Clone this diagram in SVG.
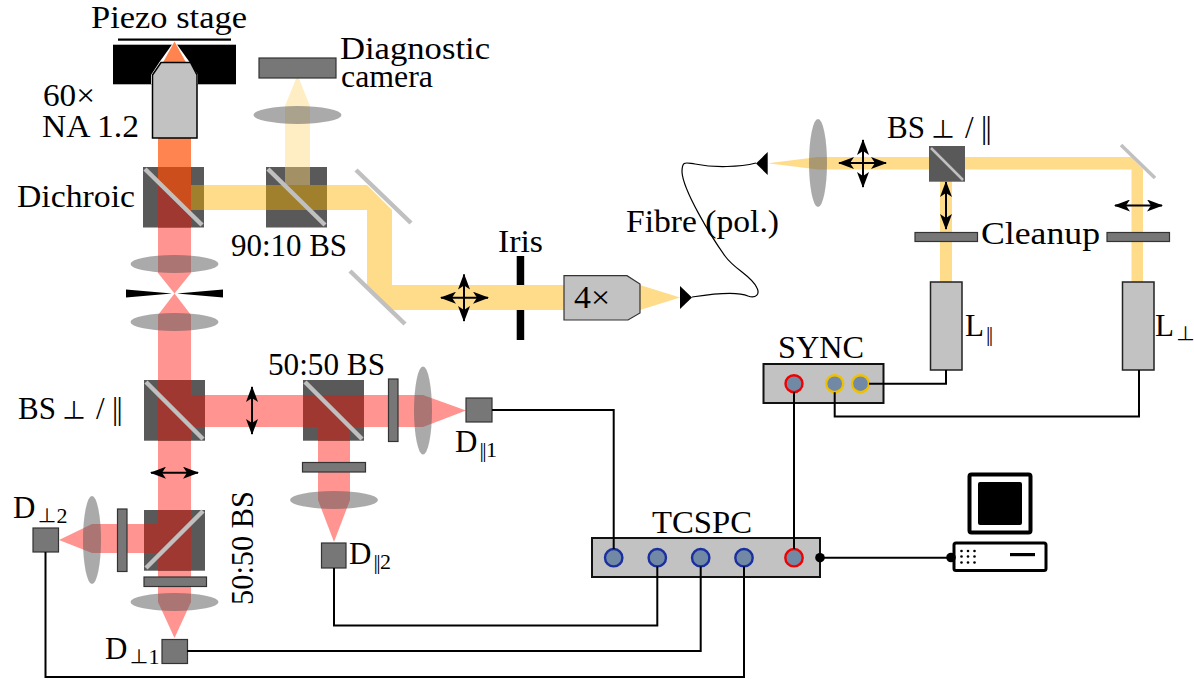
<svg xmlns="http://www.w3.org/2000/svg" width="1194" height="679" viewBox="0 0 1194 679">
<style>
text{font-family:"Liberation Serif","Noto Sans CJK SC","DejaVu Serif",serif;font-size:31px;fill:#000}
tspan.s{font-size:22px}
tspan.p{font-size:19px}
tspan.b{letter-spacing:-1.6px}
tspan.t{font-size:24px}
.box{fill:#595959}
.mir{stroke:#c0c0c0;stroke-width:4.5;fill:none}
.lens{fill:#555;opacity:.5}
.red{fill:#ff9490}.dred{fill:#9e3830}
.org{fill:#ff8450}.dorg{fill:#cb4e1c}
.yel{fill:#ffdc8a}.dyel{fill:#a0802c}
.pale{fill:#ffeec4}.dpale{fill:#a39064}
.flt{fill:#777;stroke:#333;stroke-width:1.2}
.det{fill:#777;stroke:#333;stroke-width:1.2}
.las{fill:#c2c2c2;stroke:#222;stroke-width:1.5}
.inst{fill:#c2c2c2;stroke:#111;stroke-width:2}
.wire{fill:none;stroke:#000;stroke-width:2}
.pol{fill:none;stroke:#000;stroke-width:2;marker-start:url(#ah);marker-end:url(#ah)}
.pb{fill:#7189a5;stroke:#1a2fa0;stroke-width:2.4}
.pr{fill:#7189a5;stroke:#f00000;stroke-width:2.4}
.py{fill:#7189a5;stroke:#f0c000;stroke-width:2.4}
</style>
<defs>
<marker id="ah" markerUnits="userSpaceOnUse" viewBox="0 0 16 12" refX="15" refY="6" markerWidth="16" markerHeight="12" orient="auto-start-reverse"><path d="M0 0 L16 6 L0 12 L4 6 Z" fill="#000"/></marker>
</defs>

<g id="beams-pump">
<polygon class="yel" points="191,185 367,185 392,210 392,285 564,285 564,310 392,310 367,285 367,210 191,210"/>
<polygon class="yel" points="640,285 680,297.5 640,310"/>
<rect class="pale" x="285" y="106" width="25" height="61"/>
<polygon class="pale" points="285,106 310,106 297.5,75"/>
<polygon class="yel" points="818,157 1131.5,157 1143,169 1143,282 1131.5,282 1131.5,169.5 818,169.5 768,163.2"/>
<rect class="yel" x="940" y="170" width="12" height="112"/>
</g>
<g id="beams-emission">
<rect class="org" x="158" y="138" width="33" height="30"/>
<polygon class="red" points="158,227 191,227 191,273 174.5,293.5 158,273"/>
<polygon class="red" points="174.5,293.5 191,315 191,380 158,380 158,315"/>
<rect class="red" x="158" y="440" width="33" height="70"/>
<polygon class="red" points="158,570 191,570 191,602 174.5,638 158,602"/>
<rect class="red" x="205" y="395" width="98" height="32"/>
<polygon class="red" points="364,395 423,395 466,410.5 423,427 364,427"/>
<polygon class="red" points="318,440 350,440 350,500 334,542 318,500"/>
<polygon class="red" points="144,524 92,524 59,540 92,553 144,553"/>
</g>

<g id="stage">
<rect x="118" y="38.5" width="113" height="2.2" fill="#000"/>
<rect x="113" y="44.7" width="123" height="39.6" fill="#000"/>
<polygon fill="#fff" points="174.5,41 189.5,62 198,75 198,84.3 151,84.3 151,75 159.5,62"/>
<polygon class="org" points="174.5,41.5 186,62.5 163,62.5"/>
</g>
<g id="objective60">
<polygon fill="#c2c2c2" stroke="#000" stroke-width="1.5" points="152.5,138 152.5,75 161,62.5 190.5,62.5 197,75 197,138"/>
</g>
<g id="camera"><rect class="det" x="259" y="58" width="77" height="20"/></g>

<g id="dichroic">
<rect class="box" x="143" y="167" width="61" height="60.5"/>
<polygon class="dorg" points="158,167 191,167 191,212 158,182"/>
<polygon class="dred" points="158,182 191,212 191,227.5 158,227.5"/>
<rect class="dyel" x="191" y="185" width="13" height="25"/>
<path class="mir" d="M145 169 L202 225"/>
</g>
<g id="bs90">
<rect class="box" x="266" y="167" width="61" height="60.5"/>
<rect class="dpale" x="285" y="167" width="25" height="18"/>
<rect class="dyel" x="266" y="185" width="61" height="25"/>
<path class="mir" d="M268 169 L325 225"/>
</g>
<g id="mirrors">
<path class="mir" d="M356 170 L411 223"/>
<path class="mir" d="M350 271 L405 324"/>
<path class="mir" style="stroke-width:3.5" d="M1121 145 L1155 178"/>
</g>
<g id="lens-top"><ellipse class="lens" cx="297.5" cy="115" rx="44" ry="9"/></g>
<g id="lens1"><ellipse class="lens" cx="174.5" cy="264" rx="44" ry="9"/></g>
<g id="pinhole">
<polygon points="126,289.5 172,293.5 126,297.5" fill="#000"/>
<polygon points="223,289.5 177,293.5 223,297.5" fill="#000"/>
</g>
<g id="lens2"><ellipse class="lens" cx="174.5" cy="322" rx="44" ry="9"/></g>

<g id="bs-pol-left">
<rect class="box" x="144" y="380" width="61" height="60.7"/>
<rect class="dred" x="158" y="380" width="33" height="60.7"/>
<rect class="dred" x="191" y="395" width="14" height="32"/>
<path class="mir" d="M146 382 L203 439"/>
</g>
<g id="bs50-right">
<rect class="box" x="303" y="380" width="61" height="60.7"/>
<rect class="dred" x="303" y="395" width="61" height="32"/>
<rect class="dred" x="318" y="427" width="32" height="13.7"/>
<path class="mir" d="M305 382 L362 439"/>
</g>
<g id="bs50-lower">
<rect class="box" x="144" y="510" width="61" height="60.7"/>
<rect class="dred" x="158" y="510" width="33" height="60.7"/>
<rect class="dred" x="144" y="524" width="14" height="29"/>
<path class="mir" d="M146 568 L203 511"/>
</g>
<g id="filters">
<rect class="flt" x="388.5" y="379" width="9.5" height="62.5"/>
<rect class="flt" x="302.5" y="462.5" width="63" height="9.5"/>
<rect class="flt" x="117.5" y="509" width="9.5" height="62.5"/>
<rect class="flt" x="144" y="577" width="62.5" height="9.5"/>
<rect class="flt" x="915" y="232.5" width="62.5" height="9"/>
<rect class="flt" x="1107" y="232.5" width="62.5" height="9"/>
</g>
<g id="lenses-detection">
<ellipse class="lens" cx="423" cy="410.5" rx="9" ry="44"/>
<ellipse class="lens" cx="334" cy="500" rx="44" ry="9"/>
<ellipse class="lens" cx="92" cy="540" rx="9" ry="44"/>
<ellipse class="lens" cx="174.5" cy="602" rx="44" ry="9"/>
<ellipse class="lens" cx="818" cy="163" rx="9" ry="44"/>
</g>

<g id="pol-arrows">
<path class="pol" d="M252 387 V434"/>
<path class="pol" d="M151 472.7 H198"/>
<path class="pol" d="M441 297.7 H488"/>
<path class="pol" d="M464 274.5 V321"/>
<path class="pol" d="M839 163 H886"/>
<path class="pol" d="M863 140 V187"/>
<path class="pol" d="M946 182 V229"/>
<path class="pol" d="M1115 205.5 H1162"/>
</g>

<g id="iris">
<rect x="516.7" y="256" width="7.5" height="29" fill="#000"/>
<rect x="516.7" y="310" width="7.5" height="30" fill="#000"/>
</g>
<g id="objective4">
<polygon fill="#c2c2c2" stroke="#333" stroke-width="1.2" points="564,275.7 627,275.7 640,284 640,313 628,320 564,320"/>
</g>
<g id="fibre-ends">
<polygon points="680,286 692,297.5 680,309" fill="#000"/>
<polygon points="756,163.5 767.7,152 767.7,175" fill="#000"/>
</g>
<g id="bs-pol-right">
<rect class="box" x="929" y="146" width="36" height="35.7"/>
<path class="mir" style="stroke-width:2.5" d="M931 148 L963 180"/>
</g>
<g id="laser-par"><rect class="las" x="930.5" y="282" width="31.5" height="88"/></g>
<g id="laser-perp"><rect class="las" x="1122.5" y="282" width="31.5" height="88"/></g>

<g id="detectors">
<rect class="det" x="466" y="398" width="26" height="24"/>
<rect class="det" x="321.5" y="543" width="24.5" height="25"/>
<rect class="det" x="33" y="528" width="25.5" height="24"/>
<rect class="det" x="162" y="639.5" width="25.5" height="24"/>
</g>

<g id="sync">
<rect class="inst" x="763.5" y="364" width="120" height="39"/>
<circle class="pr" cx="794" cy="383.7" r="8.5"/>
<circle class="py" cx="834.7" cy="383.7" r="8.5"/>
<circle class="py" cx="860.5" cy="383.7" r="8.5"/>
</g>
<g id="tcspc">
<rect class="inst" x="592" y="538" width="228" height="39"/>
<circle class="pb" cx="613.7" cy="557.7" r="8.7"/>
<circle class="pb" cx="657.3" cy="557.7" r="8.7"/>
<circle class="pb" cx="700.7" cy="557.7" r="8.7"/>
<circle class="pb" cx="744" cy="557.7" r="8.7"/>
<circle class="pr" cx="794" cy="557.7" r="8.7"/>
<circle cx="820" cy="557.7" r="4.8" fill="#000"/>
</g>
<g id="computer">
<rect x="969.5" y="474.5" width="61" height="58" rx="2" fill="#fff" stroke="#000" stroke-width="4"/>
<rect x="978" y="482" width="44" height="43" rx="2" fill="#000"/>
<rect x="954" y="543" width="92" height="27.5" rx="2" fill="#fff" stroke="#000" stroke-width="3"/>
<circle cx="951" cy="557.5" r="4.8" fill="#000"/>
<rect x="1010" y="553" width="25" height="3.2" fill="#000"/>
<g fill="#000">
<circle cx="961.5" cy="551" r="1.3"/><circle cx="968" cy="551" r="1.3"/><circle cx="974.5" cy="551" r="1.3"/>
<circle cx="961.5" cy="556.5" r="1.3"/><circle cx="968" cy="556.5" r="1.3"/><circle cx="974.5" cy="556.5" r="1.3"/>
<circle cx="961.5" cy="562.5" r="1.3"/><circle cx="968" cy="562.5" r="1.3"/><circle cx="974.5" cy="562.5" r="1.3"/>
</g>
</g>

<g id="connectors">
<path class="wire" d="M492 410 H613.7 V549"/>
<path class="wire" d="M334 568 V625.5 H657.3 V566.4"/>
<path class="wire" d="M187 651 H700.7 V566.4"/>
<path class="wire" d="M45.5 552 V677 H744 V566.4"/>
<path class="wire" d="M794 392.2 V549"/>
<path class="wire" d="M869 383.7 H946 V370"/>
<path class="wire" d="M834.7 392.2 V416.5 H1139 V370"/>
<path class="wire" d="M820 557.7 H951"/>
<path d="M692 297 C705 295 735 290 748 296 C756 299 760 294 757 288 C752 276 735 270 725 256 C710 235 683 190 682 172 C682 160 686 163 695 164 C715 168 740 167 756 163" fill="none" stroke="#000" stroke-width="1.2"/>
</g>

<g id="labels">
<text x="91" y="28" textLength="156" lengthAdjust="spacingAndGlyphs">Piezo stage</text>
<text x="340" y="59" textLength="150" lengthAdjust="spacingAndGlyphs">Diagnostic</text>
<text x="341" y="87" textLength="92" lengthAdjust="spacingAndGlyphs">camera</text>
<text x="43" y="106" textLength="52" lengthAdjust="spacingAndGlyphs">60×</text>
<text x="42" y="137" textLength="97" lengthAdjust="spacingAndGlyphs">NA 1.2</text>
<text x="17" y="207" textLength="118" lengthAdjust="spacingAndGlyphs">Dichroic</text>
<text x="231" y="256" textLength="116" lengthAdjust="spacingAndGlyphs">90:10 BS</text>
<text x="498" y="252" textLength="45" lengthAdjust="spacingAndGlyphs">Iris</text>
<text x="574" y="308" textLength="36" lengthAdjust="spacingAndGlyphs">4×</text>
<text x="626" y="232" textLength="153" lengthAdjust="spacingAndGlyphs">Fibre (pol.)</text>
<text x="18" y="419">BS <tspan class="t" x="62">⊥</tspan> <tspan x="96">/</tspan><tspan class="b" x="112">||</tspan></text>
<text x="268" y="375" textLength="117" lengthAdjust="spacingAndGlyphs">50:50 BS</text>
<text transform="translate(253 605) rotate(-90)" textLength="114" lengthAdjust="spacingAndGlyphs">50:50 BS</text>
<text x="105" y="659">D<tspan class="p" dy="5" dx="2">⊥</tspan><tspan class="s">1</tspan></text>
<text x="13" y="518">D<tspan class="p" dy="5" dx="2">⊥</tspan><tspan class="s">2</tspan></text>
<text x="455" y="452">D<tspan class="s b" dy="5" dx="2">||</tspan><tspan class="s" dx="1">1</tspan></text>
<text x="349" y="564">D<tspan class="s b" dy="5" dx="2">||</tspan><tspan class="s" dx="1">2</tspan></text>
<text x="652" y="533" textLength="100" lengthAdjust="spacingAndGlyphs">TCSPC</text>
<text x="778" y="358" textLength="86" lengthAdjust="spacingAndGlyphs">SYNC</text>
<text x="981" y="244" textLength="119" lengthAdjust="spacingAndGlyphs">Cleanup</text>
<text x="887" y="138">BS <tspan class="t" x="931">⊥</tspan> <tspan x="965">/</tspan><tspan class="b" x="981">||</tspan></text>
<text x="965" y="336">L<tspan class="s b" dy="5" dx="2">||</tspan></text>
<text x="1155" y="336">L<tspan class="p" dy="5" dx="2">⊥</tspan></text>
</g>
</svg>
